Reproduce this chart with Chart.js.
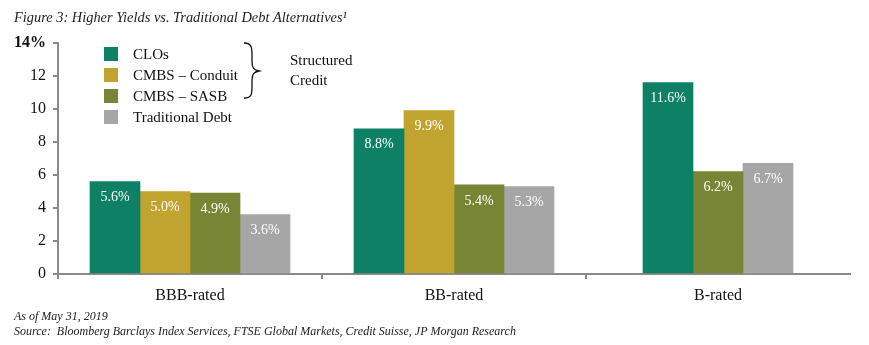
<!DOCTYPE html>
<html>
<head>
<meta charset="utf-8">
<script src="https://cdn.jsdelivr.net/npm/chart.js@4.4.0/dist/chart.umd.min.js"></script>
<style>
  html, body { margin: 0; padding: 0; background: #fff; }
  #wrap { width: 869px; height: 345px; position: relative; }
</style>
</head>
<body>
<div id="wrap"><canvas id="yields"></canvas></div>
<script>
/* Data */

const ratings = ['BBB-rated', 'BB-rated', 'B-rated']
const clos = [5.6, 8.8, 11.6]
const cmbsConduit = [5.0, 9.9, null]
const cmbsSasb = [4.9, 5.4, 6.2]
const traditionalDebt = [3.6, 5.3, 6.7]
const yMax = 14
const yStep = 2

const SERIF = "'Liberation Serif', 'DejaVu Serif', serif"
const AXIS_GREY = '#8a8a8a'

/* Plugins */

// percent labels inside the top of each bar
const barLabels = {
  id: 'barLabels',
  afterDatasetsDraw(chart) {
    const ctx = chart.ctx
    ctx.save()
    ctx.fillStyle = '#ffffff'
    ctx.font = '14px ' + SERIF
    ctx.textAlign = 'center'
    ctx.textBaseline = 'middle'
    chart.data.datasets.forEach((ds, i) => {
      chart.getDatasetMeta(i).data.forEach((bar, j) => {
        const v = ds.data[j]
        if (v === null) return
        ctx.fillText(v.toFixed(1) + '%', bar.x, bar.y + 16)
      })
    })
    ctx.restore()
  }
}

// legend inside the plot, brace around the structured credit series
const insideLegend = {
  id: 'insideLegend',
  afterDraw(chart) {
    const ctx = chart.ctx
    ctx.save()
    ctx.font = '15px ' + SERIF
    ctx.textBaseline = 'middle'
    ctx.textAlign = 'left'
    chart.data.datasets.forEach((ds, i) => {
      const y = 54 + i * 21
      ctx.fillStyle = ds.backgroundColor
      ctx.fillRect(104, y - 7, 14, 14)
      ctx.fillStyle = '#111'
      ctx.fillText(ds.label, 133, y + 1)
    })

    // brace
    ctx.strokeStyle = '#111'
    ctx.lineWidth = 1.3
    ctx.beginPath()
    ctx.moveTo(244, 43)
    ctx.bezierCurveTo(252, 43, 252, 48, 252, 56)
    ctx.lineTo(252, 62)
    ctx.bezierCurveTo(252, 68, 254, 70, 259, 71)
    ctx.bezierCurveTo(254, 72, 252, 74, 252, 80)
    ctx.lineTo(252, 86)
    ctx.bezierCurveTo(252, 94, 252, 98, 244, 98)
    ctx.stroke()

    ctx.fillText('Structured', 290, 61)
    ctx.fillText('Credit', 290, 81)
    ctx.restore()
  }
}

// title and footnotes
const captions = {
  id: 'captions',
  afterDraw(chart) {
    const ctx = chart.ctx
    ctx.save()
    ctx.fillStyle = '#222'
    ctx.textAlign = 'left'
    ctx.textBaseline = 'alphabetic'
    ctx.font = 'italic 14.4px ' + SERIF
    ctx.fillText('Figure 3: Higher Yields vs. Traditional Debt Alternatives\u00B9', 14, 22)
    ctx.font = 'italic 12px ' + SERIF
    ctx.fillText('As of May 31, 2019', 14, 320)
    ctx.fillText('Source:  Bloomberg Barclays Index Services, FTSE Global Markets, Credit Suisse, JP Morgan Research', 14, 335)
    ctx.restore()
  }
}

/* Chart */

const ctx = document.querySelector('#yields').getContext('2d')
const yieldsChart = new Chart(ctx, {
  type: 'bar',
  data: {
    labels: ratings,
    datasets: [
      { label: 'CLOs', data: clos, backgroundColor: '#0d8065' },
      { label: 'CMBS \u2013 Conduit', data: cmbsConduit, backgroundColor: '#c1a32f' },
      { label: 'CMBS \u2013 SASB', data: cmbsSasb, backgroundColor: '#788535' },
      { label: 'Traditional Debt', data: traditionalDebt, backgroundColor: '#a6a6a6' }
    ]
  },
  options: {
    responsive: true,
    maintainAspectRatio: false,
    animation: false,
    skipNull: true,
    barThickness: 50,
    layout: {
      padding: { left: 0, right: 19, top: 43, bottom: 41 }
    },
    plugins: {
      legend: { display: false },
      tooltip: { enabled: false },
      title: { display: false }
    },
    scales: {
      x: {
        afterFit: (scale) => { scale.height = 30 },
        border: { color: AXIS_GREY, width: 2 },
        grid: {
          offset: true,
          drawOnChartArea: false,
          drawTicks: true,
          tickLength: 5,
          // the closing line at the right end gets the scale context: leave it out
          color: (c) => c.type === 'tick' ? AXIS_GREY : 'rgba(0,0,0,0)',
          lineWidth: 2
        },
        ticks: {
          color: '#111',
          font: { family: SERIF, size: 16 },
          padding: 7
        }
      },
      y: {
        min: 0,
        max: yMax,
        afterFit: (scale) => { scale.width = 58 },
        border: { color: AXIS_GREY, width: 2 },
        grid: {
          drawOnChartArea: false,
          drawTicks: true,
          tickLength: 5,
          color: AXIS_GREY,
          lineWidth: 2
        },
        ticks: {
          stepSize: yStep,
          color: '#111',
          font: (c) => ({
            family: SERIF,
            size: 16,
            weight: c.tick && c.tick.value === yMax ? 'bold' : 'normal'
          }),
          padding: 7,
          callback: (value) => value === yMax ? value + '%' : value
        }
      }
    }
  },
  plugins: [barLabels, insideLegend, captions]
})
</script>
</body>
</html>
